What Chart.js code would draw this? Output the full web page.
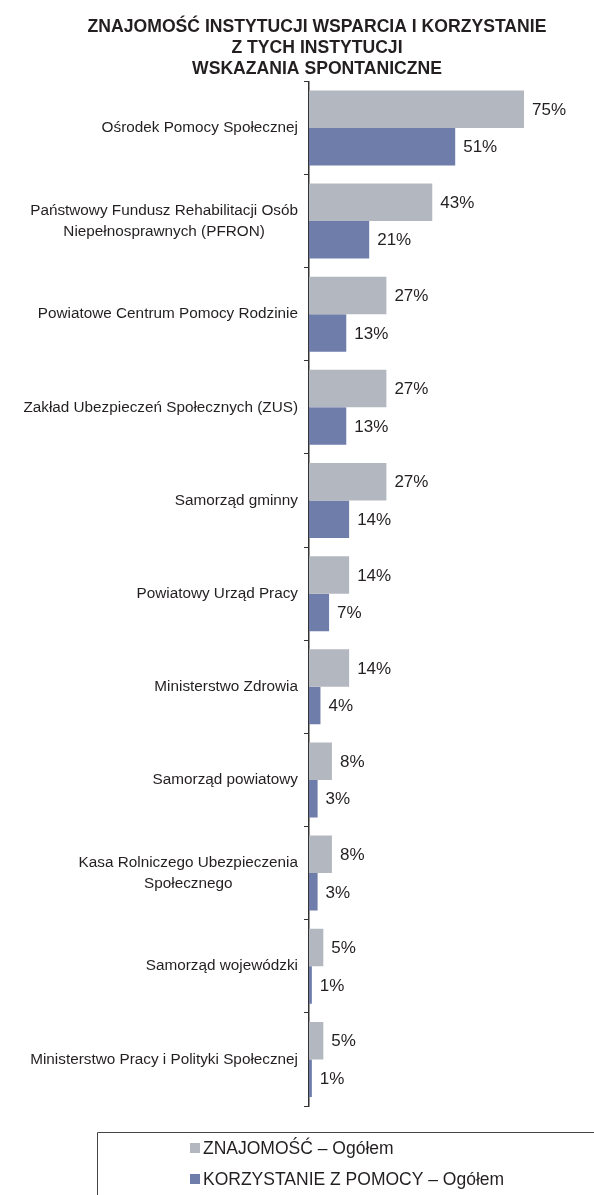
<!DOCTYPE html>
<html>
<head>
<meta charset="utf-8">
<title>Znajomość instytucji wsparcia</title>
<script src="https://cdn.jsdelivr.net/npm/chart.js"></script>
<style>
    body { margin: 0; background: #fff; }
    #wrap { width: 594px; height: 1195px; position: relative; }
</style>
</head>
<body>
<div id="wrap"><canvas id="instChart"></canvas></div>
<script>
    const categories = [
        ['Ośrodek Pomocy Społecznej'],
        ['Państwowy Fundusz Rehabilitacji Osób', 'Niepełnosprawnych (PFRON)'],
        ['Powiatowe Centrum Pomocy Rodzinie'],
        ['Zakład Ubezpieczeń Społecznych (ZUS)'],
        ['Samorząd gminny'],
        ['Powiatowy Urząd Pracy'],
        ['Ministerstwo Zdrowia'],
        ['Samorząd powiatowy'],
        ['Kasa Rolniczego Ubezpieczenia', 'Społecznego'],
        ['Samorząd wojewódzki'],
        ['Ministerstwo Pracy i Polityki Społecznej']
    ];
    const znajomosc = [75, 43, 27, 27, 27, 14, 14, 8, 8, 5, 5];
    const korzystanie = [51, 21, 13, 13, 14, 7, 4, 3, 3, 1, 1];
    const seriesNames = ['ZNAJOMOŚĆ – Ogółem', 'KORZYSTANIE Z POMOCY – Ogółem'];
    const seriesColors = ['#b3b8c0', '#6f7dab'];
    const titleLines = ['ZNAJOMOŚĆ INSTYTUCJI WSPARCIA I KORZYSTANIE', 'Z TYCH INSTYTUCJI', 'WSKAZANIA SPONTANICZNE'];

    const FONT = '"Liberation Sans", Arial, sans-serif';
    const INK = '#231f20';

    //category labels: block right-aligned, lines centred within the block
    const sideLabels = {
        id: 'sideLabels',
        afterDraw(chart) {
            const ctx = chart.ctx;
            const y = chart.scales.y;
            const right = chart.chartArea.left - 11;
            ctx.save();
            ctx.fillStyle = INK;
            ctx.font = '15.3px ' + FONT;
            ctx.textAlign = 'center';
            ctx.textBaseline = 'middle';
            categories.forEach((lines, i) => {
                const cy = y.getPixelForValue(i);
                const w = Math.max(...lines.map(l => ctx.measureText(l).width));
                const cx = right - w / 2;
                lines.forEach((l, j) => {
                    ctx.fillText(l, cx, cy + (j - (lines.length - 1) / 2) * 21);
                });
            });
            ctx.restore();
        }
    };

    //percent labels at bar ends
    const valueLabels = {
        id: 'valueLabels',
        afterDatasetsDraw(chart) {
            const ctx = chart.ctx;
            ctx.save();
            ctx.fillStyle = INK;
            ctx.font = '17px ' + FONT;
            ctx.textAlign = 'left';
            ctx.textBaseline = 'middle';
            chart.data.datasets.forEach((ds, di) => {
                chart.getDatasetMeta(di).data.forEach((bar, i) => {
                    ctx.fillText(ds.data[i] + '%', bar.x + 8, bar.y + 1);
                });
            });
            ctx.restore();
        }
    };

    //legend in a box open to the right and bottom
    const boxLegend = {
        id: 'boxLegend',
        afterDraw(chart) {
            const ctx = chart.ctx;
            const top = 1132, left = 97;
            ctx.save();
            ctx.strokeStyle = '#444';
            ctx.lineWidth = 1;
            ctx.beginPath();
            ctx.moveTo(chart.width, top + 0.5);
            ctx.lineTo(left + 0.5, top + 0.5);
            ctx.lineTo(left + 0.5, chart.height);
            ctx.stroke();
            ctx.font = '17.5px ' + FONT;
            ctx.textBaseline = 'middle';
            ctx.textAlign = 'left';
            chart.data.datasets.forEach((ds, i) => {
                const cy = 1148 + i * 31;
                ctx.fillStyle = ds.backgroundColor;
                ctx.fillRect(190, cy - 5, 10, 10);
                ctx.fillStyle = INK;
                ctx.fillText(ds.label, 203, cy + 1);
            });
            ctx.restore();
        }
    };

    new Chart(document.getElementById('instChart'), {
        type: 'bar',
        data: {
            labels: categories,
            datasets: [
                { label: seriesNames[0], data: znajomosc, backgroundColor: seriesColors[0] },
                { label: seriesNames[1], data: korzystanie, backgroundColor: seriesColors[1] }
            ]
        },
        options: {
            indexAxis: 'y',
            responsive: true,
            maintainAspectRatio: false,
            animation: false,
            datasets: { bar: { categoryPercentage: 0.805, barPercentage: 1.0 } },
            //left/right padding also centres the title over x≈317
            layout: { padding: { left: 67, right: 27, top: 0, bottom: 89 } },
            scales: {
                x: { display: false, min: 0, max: 90 },
                y: {
                    afterFit(scale) { scale.width = 242; },
                    ticks: { display: false },
                    grid: { offset: true, drawOnChartArea: false, drawTicks: true, tickLength: 5, color: '#333', lineWidth: 1 },
                    border: { display: true, color: '#333', width: 1.5 }
                }
            },
            plugins: {
                legend: { display: false },
                tooltip: { enabled: false },
                title: {
                    display: true,
                    text: titleLines,
                    color: INK,
                    font: { family: FONT, size: 17.6, weight: 'bold', lineHeight: 1.18 },
                    padding: { top: 17, bottom: 2 }
                }
            }
        },
        plugins: [sideLabels, valueLabels, boxLegend]
    });
</script>
</body>
</html>
